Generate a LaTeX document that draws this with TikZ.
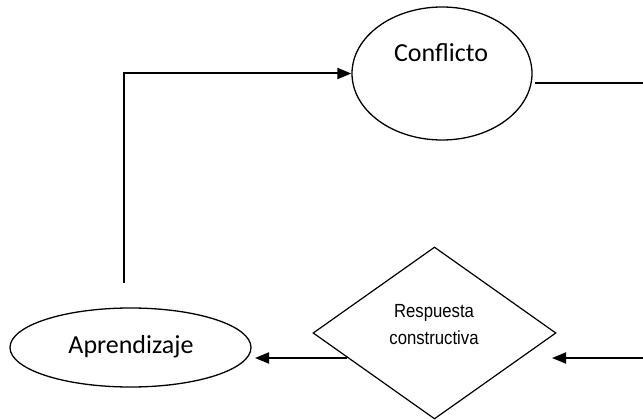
\documentclass[tikz,border=0pt]{standalone}
\usepackage{fontspec}
\setmainfont{Carlito}
\newfontfamily\narrowfont[FakeStretch=0.88]{Liberation Sans}
\usetikzlibrary{shapes.geometric,arrows.meta}
\tikzset{
  ovalbox/.style={draw, ellipse, line width=1.3pt, inner sep=0pt},
  decisionbox/.style={draw, diamond, line width=1.2pt, inner sep=0pt},
  lbl/.style={anchor=base, font=\fontsize{26}{30}\selectfont, inner sep=0pt},
  dlbl/.style={anchor=base, font=\narrowfont\fontsize{19}{22}\selectfont, inner sep=0pt},
  flow/.style={line width=2pt, -{Triangle[length=14pt,width=11pt]}},
  plain/.style={line width=1.6pt}
}
\begin{document}
\begin{tikzpicture}[x=1pt,y=-1pt]
\useasboundingbox (0,0) rectangle (643,420);
% shapes
\node[ovalbox, minimum width=180pt, minimum height=133pt] (conf) at (442,73.5) {};
\node[ovalbox, minimum width=241pt, minimum height=79pt] (apr) at (130.5,347.5) {};
\node[decisionbox, minimum width=243pt, minimum height=172pt] (resp) at (434.5,333) {};
% texts
\node[lbl] (conftxt) at (441,62) {Conflicto};
\node[lbl] (aprtxt) at (131,353) {Aprendizaje};
\node[dlbl] (resptxt1) at (434,317) {Respuesta};
\node[dlbl] (resptxt2) at (434,344) {constructiva};
% connector coordinates
\coordinate (a1) at (124,283);
\coordinate (c1) at (535,83);
\coordinate (c2) at (643,83);
\coordinate (d1) at (347,358);
\coordinate (d2) at (255,358);
\coordinate (r1) at (643,358);
\coordinate (r2) at (552,358);
% connectors
\draw[flow] (a1) |- (conf.west);
\draw[plain] (c1) -- (c2);
\draw[flow] (d1) -- (d2);
\draw[flow] (r1) -- (r2);
\end{tikzpicture}
\end{document}
